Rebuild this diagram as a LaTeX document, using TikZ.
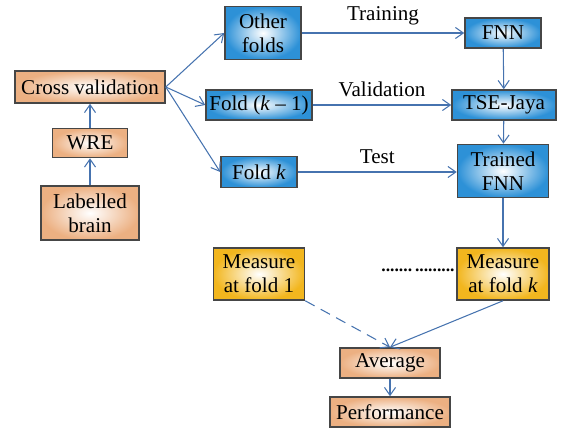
\documentclass[tikz,border=0pt]{standalone}
\usepackage{fontspec}
\setmainfont{Liberation Serif}
\usetikzlibrary{arrows.meta,positioning}
\definecolor{Peach}{RGB}{236,176,130}
\definecolor{Sky}{RGB}{45,145,215}
\definecolor{Gold}{RGB}{242,182,30}
\definecolor{Edge}{RGB}{70,70,70}
\definecolor{Link}{RGB}{70,115,175}
\tikzset{
  box/.style={draw=Edge,line width=0.9pt,inner sep=1pt,align=center,font=\fontsize{12}{13.5}\selectfont,
    inner color=white},
  peachbox/.style={box,outer color=Peach},
  bluebox/.style={box,outer color=Sky},
  goldbox/.style={box,outer color=Gold},
  link/.style={-{Straight Barb[angle=70:5.5pt]},draw=Link,line width=0.6pt},
  steplabel/.style={font=\fontsize{12}{13.5}\selectfont}
}
\begin{document}
\begin{tikzpicture}[x=0.02cm,y=-0.02cm]
\useasboundingbox (0,0) rectangle (563,432);

% left column
\node[peachbox,minimum width=3cm,minimum height=0.64cm] (cv) at (90,87) {Cross validation};
\node[peachbox,minimum width=1.5cm,minimum height=0.58cm] (wre) at (90,143) {WRE};
\node[peachbox,minimum width=1.96cm,minimum height=1.08cm] (brain) at (90,213) {Labelled\\brain};

% folds
\node[bluebox,minimum width=1.52cm,minimum height=1.06cm] (other) at (263,33) {Other\\folds};
\node[bluebox,minimum width=2.12cm,minimum height=0.6cm] (foldkm) at (259,105) {Fold (\textit{k} -- 1)};
\node[bluebox,minimum width=1.52cm,minimum height=0.62cm] (foldk) at (259,172) {Fold \textit{k}};

% right column
\node[bluebox,minimum width=1.52cm,minimum height=0.6cm] (fnn) at (503,33) {FNN};
\node[bluebox,minimum width=2.08cm,minimum height=0.6cm] (jaya) at (504,105) {TSE-Jaya};
\node[bluebox,minimum width=1.82cm,minimum height=1.06cm] (trained) at (503,171) {Trained\\FNN};

% measures
\node[goldbox,minimum width=1.82cm,minimum height=1.04cm] (m1) at (259,274) {Measure\\at fold 1};
\node[goldbox,minimum width=1.84cm,minimum height=1.04cm] (mk) at (503,274) {Measure\\at fold \textit{k}};
\node[font=\fontsize{10}{12}\selectfont] (dots) at (418,270) {\textbf{.......\,.........}};

% bottom
\node[peachbox,minimum width=2cm,minimum height=0.6cm] (avg) at (390,363) {Average};
\node[peachbox,minimum width=2.4cm,minimum height=0.6cm] (perf) at (390,412) {Performance};

\draw[link] (brain) -- (wre);
\draw[link] (wre) -- (cv);
\draw[link] (cv.east) -- (other.west);
\draw[link] (cv.east) -- (foldkm.west);
\draw[link] (cv.east) -- (foldk.west);

\draw[link] (other) -- node[steplabel,above=1pt] {Training} (fnn);
\draw[link] (foldkm) -- node[steplabel,above=1pt] {Validation} (jaya);
\draw[link] (foldk) -- node[steplabel,above=1pt] {Test} (trained.west |- foldk);

\draw[link] (fnn) -- (jaya);
\draw[link] (jaya) -- (trained);
\draw[link] (trained) -- (mk);

\draw[link,dashed,dash pattern=on 6pt off 4pt] (m1.south east) -- (avg.north);
\draw[link] (mk.south) -- (avg.north);
\draw[link] (avg) -- (perf);
\end{tikzpicture}
\end{document}
